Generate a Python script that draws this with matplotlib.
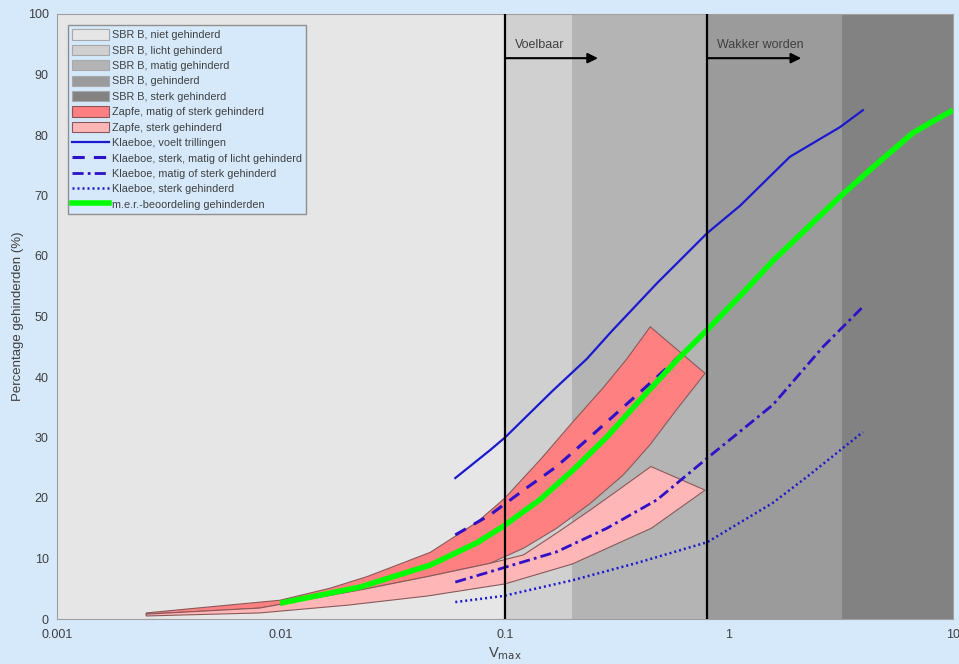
import matplotlib
matplotlib.use("Agg")
import matplotlib.pyplot as plt
from matplotlib.patches import Patch
from matplotlib.lines import Line2D
import numpy as np

plt.rcParams['font.family'] = ['Liberation Sans', 'DejaVu Sans']

# ---------------- data ----------------
sbr_edges = [0.001, 0.1, 0.2, 0.8, 3.2, 10]
sbr_labels = ["SBR B, niet gehinderd", "SBR B, licht gehinderd", "SBR B, matig gehinderd",
              "SBR B, gehinderd", "SBR B, sterk gehinderd"]

zapfe_ms_top_x = [0.0025, 0.0042, 0.0099, 0.0166, 0.0242, 0.0463, 0.075, 0.1, 0.145, 0.2, 0.274, 0.35, 0.445]
zapfe_ms_top_y = [1.0, 1.8, 3.1, 5.1, 7.0, 11.0, 16.0, 20.0, 26.5, 32.5, 38.2, 43.0, 48.3]
zapfe_ms_bot_x = [0.0025, 0.008, 0.0226, 0.045, 0.0857, 0.121, 0.17, 0.24, 0.337, 0.444, 0.583, 0.782]
zapfe_ms_bot_y = [0.8, 1.8, 4.8, 7.0, 9.2, 11.7, 15.0, 19.1, 23.8, 28.8, 34.6, 40.6]

zapfe_s_top_x = [0.0025, 0.008, 0.0226, 0.045, 0.0857, 0.121, 0.17, 0.24, 0.337, 0.448, 0.782]
zapfe_s_top_y = [0.8, 1.8, 4.8, 7.0, 9.2, 10.6, 14.2, 18.0, 21.9, 25.2, 21.3]
zapfe_s_bot_x = [0.0025, 0.008, 0.02, 0.045, 0.1, 0.2, 0.45, 0.782]
zapfe_s_bot_y = [0.5, 1.0, 2.3, 3.8, 5.8, 9.1, 15.0, 21.3]

kl_voelt_x = [0.06, 0.0857, 0.1, 0.164, 0.232, 0.3, 0.477, 0.8, 1.12, 1.87, 3.13, 3.96]
kl_voelt_y = [23.3, 27.9, 30.0, 37.8, 43.0, 47.6, 55.5, 63.8, 68.3, 76.4, 81.3, 84.1]

kl_sml_x = [0.06, 0.0857, 0.121, 0.17, 0.24, 0.337, 0.477, 0.624]
kl_sml_y = [13.9, 17.2, 21.3, 25.2, 30.1, 35.0, 40.0, 44.0]

kl_ms_x = [0.06, 0.0857, 0.17, 0.285, 0.477, 0.8, 1.57, 2.63, 3.96]
kl_ms_y = [6.1, 7.8, 11.1, 15.0, 19.7, 26.6, 35.4, 45.0, 51.6]

kl_s_x = [0.06, 0.098, 0.2, 0.4, 0.8, 1.57, 2.23, 3.96]
kl_s_y = [2.8, 3.8, 6.4, 9.4, 12.7, 19.2, 23.5, 30.9]

mer_x = [0.0099, 0.0226, 0.0463, 0.075, 0.098, 0.143, 0.201, 0.285, 0.401, 0.586, 0.8,
         1.12, 1.57, 2.23, 3.13, 4.4, 6.6, 7.9, 10.0]
mer_y = [2.6, 5.3, 8.9, 12.6, 15.3, 19.7, 24.6, 30.1, 36.2, 42.8, 47.8,
         53.4, 59.2, 64.6, 69.8, 74.7, 80.3, 82.0, 84.1]

thresholds_x = [0.1, 0.8]
arrow_end_x = [0.26, 2.1]
threshold_labels = ["Voelbaar", "Wakker worden"]

# ---------------- style ----------------
bg = "#d5e9fb"
sbr_colors = ["#e6e6e6", "#d0d0d0", "#b4b4b4", "#9b9b9b", "#828282"]
red = "#ff8080"
pink = "#ffb6b6"
edge = "#8a5a5a"
blue = "#1a1ad0"
blue2 = "#3010c8"
green = "#00ff00"
txt = "#404040"

fig = plt.figure(figsize=(9.59, 6.64), dpi=100, facecolor=bg)
ax = fig.add_axes([57/959, 45/664, 896/959, 605/664])
ax.set_xscale("log")
ax.set_xlim(0.001, 10)
ax.set_ylim(0, 100)

for i in range(5):
    ax.axvspan(sbr_edges[i], sbr_edges[i+1], color=sbr_colors[i], lw=0, zorder=0)

# Zapfe bands
ms_poly_x = zapfe_ms_top_x + zapfe_ms_bot_x[::-1]
ms_poly_y = zapfe_ms_top_y + zapfe_ms_bot_y[::-1]
ax.fill(ms_poly_x, ms_poly_y, facecolor=red, edgecolor=edge, lw=0.8, zorder=2)
s_poly_x = zapfe_s_top_x + zapfe_s_bot_x[::-1]
s_poly_y = zapfe_s_top_y + zapfe_s_bot_y[::-1]
ax.fill(s_poly_x, s_poly_y, facecolor=pink, edgecolor=edge, lw=0.8, zorder=2)

# Klaeboe lines
ax.plot(kl_voelt_x, kl_voelt_y, color=blue, lw=1.6, zorder=3)
ax.plot(kl_sml_x, kl_sml_y, color=blue2, lw=2.2, dashes=(4, 3), zorder=3)
ax.plot(kl_ms_x, kl_ms_y, color=blue2, lw=2.0, dashes=(4, 1.5, 1, 1.5), zorder=3)
ax.plot(kl_s_x, kl_s_y, color=blue, lw=1.8, dashes=(0.8, 1.2), zorder=3)

# m.e.r.
ax.plot(mer_x, mer_y, color=green, lw=4, solid_capstyle="butt", zorder=4)

# thresholds
for xv, xe, lab in zip(thresholds_x, arrow_end_x, threshold_labels):
    ax.axvline(xv, color="black", lw=1.6, zorder=5)
    ax.annotate("", xy=(xe, 92.7), xytext=(xv, 92.7),
                arrowprops=dict(arrowstyle="-|>", color="black", lw=1.5,
                                mutation_scale=15, shrinkA=0, shrinkB=0), zorder=6)
    ax.text(xv * 1.11, 94.9, lab, fontsize=9, color=txt, va="center", ha="left", zorder=6)

# axes styling
ax.set_xticks([0.001, 0.01, 0.1, 1, 10])
ax.set_xticklabels(["0.001", "0.01", "0.1", "1", "10"])
ax.set_yticks(range(0, 101, 10))
ax.minorticks_off()
ax.tick_params(axis="both", labelsize=9, colors=txt, direction="in", length=0)
ax.tick_params(axis="x", pad=7)
ax.tick_params(axis="y", pad=6)
for s in ax.spines.values():
    s.set_color("#a0a0a0")
    s.set_linewidth(0.8)
ax.set_xlabel("V$_{\\mathrm{max}}$", fontsize=10.5, color=txt, labelpad=3)
ax.set_ylabel("Percentage gehinderden (%)", fontsize=9.5, color=txt, labelpad=3)

handles = [Patch(facecolor=c, edgecolor="#a8a8a8", lw=0.8) for c in sbr_colors]
handles += [Patch(facecolor=red, edgecolor=edge, lw=0.8), Patch(facecolor=pink, edgecolor=edge, lw=0.8)]
handles += [Line2D([], [], color=blue, lw=1.6),
            Line2D([], [], color=blue2, lw=2.2, dashes=(4, 3)),
            Line2D([], [], color=blue2, lw=2.0, dashes=(4, 1.5, 1, 1.5)),
            Line2D([], [], color=blue, lw=1.8, dashes=(0.8, 1.2)),
            Line2D([], [], color=green, lw=4)]
labels = sbr_labels + ["Zapfe, matig of sterk gehinderd", "Zapfe, sterk gehinderd",
                       "Klaeboe, voelt trillingen", "Klaeboe, sterk, matig of licht gehinderd",
                       "Klaeboe, matig of sterk gehinderd", "Klaeboe, sterk gehinderd",
                       "m.e.r.-beoordeling gehinderden"]
leg = ax.legend(handles, labels, loc="upper left", bbox_to_anchor=(0.012, 0.982),
                prop={'size': 7.8}, frameon=True, fancybox=False, facecolor=bg, edgecolor="#909090",
                framealpha=1, handlelength=3.4, handleheight=1.1, handletextpad=0.25,
                labelspacing=0.42, borderpad=0.4, borderaxespad=0)
for t in leg.get_texts():
    t.set_color(txt)

fig.savefig("out.png", dpi=100, facecolor=bg)
